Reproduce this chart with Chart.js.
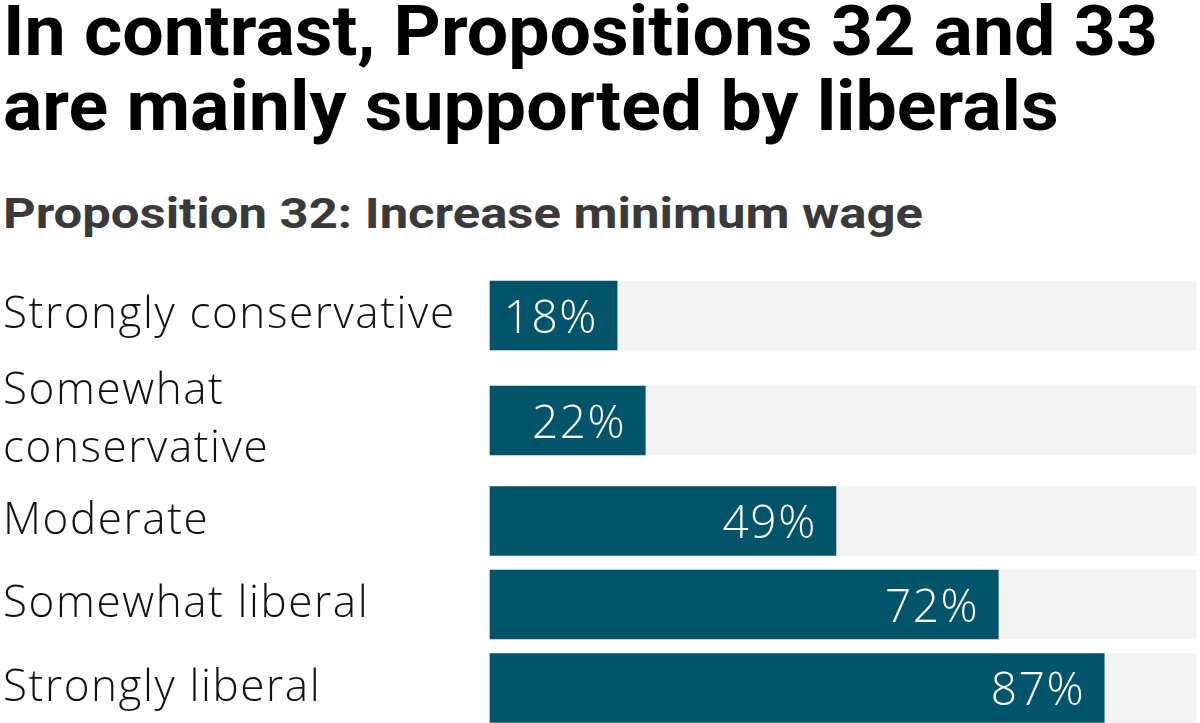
<!DOCTYPE html>
<html>
<head>
<meta charset="utf-8">
<script src="https://cdn.jsdelivr.net/npm/chart.js@4/dist/chart.umd.min.js"></script>
<style>
  html, body { margin: 0; padding: 0; background: #fff; overflow: hidden; }
  body { width: 1200px; height: 723px; position: relative; }
  h1, h2 {
    font-family: Roboto, "DejaVu Sans", sans-serif;
    font-weight: bold; margin: 0; position: absolute; left: 3px;
    transform-origin: 0 0; white-space: nowrap;
  }
  h1 { font-size: 70px; line-height: 75px; top: -6px; color: #000; }
  h2 { font-size: 43px; line-height: 50px; top: 188px; color: #3a3a3a; }
  #rows { position: absolute; top: 263px; left: 0; width: 1200px; }
  .row { position: relative; width: 1200px; }
</style>
</head>
<body>
<h1 id="title"><span id="titleLine">In contrast, Propositions 32 and 33</span><br>are mainly supported by liberals</h1>
<h2 id="subtitle"><span id="subLine">Proposition 32: Increase minimum wage</span></h2>
<div id="rows"></div>
<script>
const categories = [
  'Strongly conservative',
  ['Somewhat', 'conservative'],
  'Moderate',
  'Somewhat liberal',
  'Strongly liberal'
];
const support = [18, 22, 49, 72, 87];
const trackMax = 100;

const barColor = '#02546a';
const trackColor = '#f3f3f3';
const lightFamily = '"Open Sans", Lato, sans-serif';
const rowHeights = [105, 105, 96, 71, 96];

// squeeze the headline fonts to the condensed width of the original
function fitWidth(el, line, target) {
  const w = document.getElementById(line).getBoundingClientRect().width;
  el.style.transform = 'scaleX(' + (target / w) + ')';
}
fitWidth(document.getElementById('title'), 'titleLine', 1155);
fitWidth(document.getElementById('subtitle'), 'subLine', 920);

// the original light face is wider, open the spacing a little
const looseText = {
  id: 'looseText',
  beforeDraw(chart) { chart.ctx.letterSpacing = '1.6px'; }
};

// value text at the right end of each bar
const valueLabels = {
  id: 'valueLabels',
  afterDatasetsDraw(chart) {
    const ctx = chart.ctx;
    const meta = chart.getDatasetMeta(1);
    meta.data.forEach((bar, i) => {
      ctx.save();
      ctx.fillStyle = '#ffffff';
      ctx.font = '300 46px ' + lightFamily;
      ctx.textAlign = 'right';
      ctx.textBaseline = 'alphabetic';
      ctx.fillText(chart.data.datasets[1].data[i] + '%', bar.x - 19, bar.y + 17);
      ctx.restore();
    });
  }
};

const rows = document.getElementById('rows');
categories.forEach((cat, i) => {
  const div = document.createElement('div');
  div.className = 'row';
  div.style.height = rowHeights[i] + 'px';
  const canvas = document.createElement('canvas');
  div.appendChild(canvas);
  rows.appendChild(div);

  new Chart(canvas, {
    type: 'bar',
    data: {
      labels: [cat],
      datasets: [
        { data: [trackMax], backgroundColor: trackColor, order: 2 },
        { data: [support[i]], backgroundColor: barColor, order: 1 }
      ]
    },
    options: {
      indexAxis: 'y',
      responsive: true,
      maintainAspectRatio: false,
      animation: false,
      events: [],
      layout: { padding: { left: 3, right: 4, top: 0, bottom: 0 } },
      datasets: {
        bar: { grouped: false, barThickness: 69, borderWidth: 0, clip: false }
      },
      plugins: { legend: { display: false }, tooltip: { enabled: false } },
      scales: {
        x: { display: false, min: 0, max: trackMax },
        y: {
          grid: { display: false },
          border: { display: false },
          afterFit(scale) {
            scale.width = 487;
            scale.paddingTop = 0;
            scale.paddingBottom = 0;
          },
          ticks: {
            crossAlign: 'far',
            color: '#111',
            font: { family: lightFamily, size: 44, weight: '300', lineHeight: 1.3 },
            padding: 0
          }
        }
      }
    },
    plugins: [looseText, valueLabels]
  });
});
</script>
</body>
</html>
